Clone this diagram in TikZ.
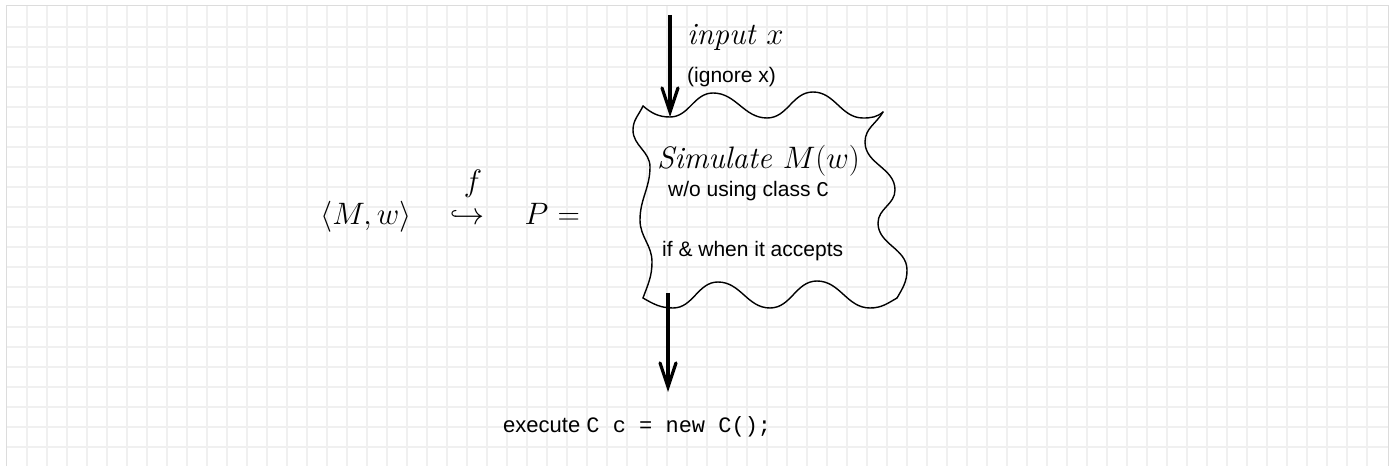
\RequirePackage{fix-cm}
\documentclass[tikz,border=0pt]{standalone}
\usepackage{fontspec}
\setsansfont{Liberation Sans}
\setmonofont{Liberation Mono}
\usepackage{tikz}
\usetikzlibrary{positioning,arrows.meta}
\definecolor{rdGrid}{HTML}{F0F0F0}
\definecolor{rdFrame}{HTML}{DCDCDC}
\definecolor{rdInk}{HTML}{000000}
\tikzset{
  rd-grid/.style={draw=rdGrid, line width=1.6pt},
  rd-frame/.style={draw=rdFrame, line width=1pt},
  rd-math/.style={inner sep=0pt, font=\fontsize{31}{36}\selectfont},
  rd-note/.style={inner sep=0pt, font=\fontsize{21}{25}\selectfont\sffamily},
  rd-code/.style={inner sep=0pt, font=\fontsize{22}{26}\selectfont\sffamily},
  rd-wave/.style={draw=rdInk, line width=1.4pt, line join=round, line cap=round},
  rd-flow/.style={-{Straight Barb[length=24pt,width=16pt,line cap=round]},
    line width=3.2pt, draw=rdInk}
}

\begin{document}
\begin{tikzpicture}[x=1pt, y=1pt]
\useasboundingbox (0,0) rectangle (1392,466);
\foreach \gx in {27,47,...,1367} \draw[rd-grid] (\gx,0) -- (\gx,460);
\foreach \gy in {19,39,...,439} \draw[rd-grid] (6,\gy) -- (1388,\gy);
\draw[rd-frame] (6,0) -- (6,460) -- (1388,460) -- (1388,0);

\node[rd-math, anchor=base] (pair) at (366,241) {$\langle M, w\rangle$};
\node[rd-math, anchor=base] (map) at (467,241) {$\hookrightarrow$};
\node[rd-math, above=13pt of map, xshift=6pt] (fname) {$f$};
\node[rd-math, base right=40pt of map] (prog) {$P$};
\node[rd-math, base right=9pt of prog] (eq) {$=$};

\draw[rd-wave] (643,360) to[out=-40,in=180] (670,349) to[out=0,in=180] (713,373)
  to[out=0,in=180] (767,348) to[out=0,in=180] (813,374)
  to[out=0,in=180] (863,348) to[out=0,in=-140] (883,354);
\draw[rd-wave] (883,354) to[out=-120,in=90] (865,324) to[out=-90,in=90] (895,276)
  to[out=-90,in=90] (878,243) to[out=-90,in=90] (907,196)
  to[out=-90,in=60] (897,168);
\draw[rd-wave] (643,360) to[out=-115,in=90] (633,336) to[out=-90,in=90] (650,299)
  to[out=-90,in=90] (640,246) to[out=-90,in=90] (652,204)
  to[out=-90,in=70] (643,168);
\draw[rd-wave] (643,168) to[out=-30,in=180] (673,158) to[out=0,in=180] (718,184)
  to[out=0,in=180] (770,158) to[out=0,in=180] (817,185)
  to[out=0,in=180] (870,158) to[out=0,in=-150] (897,168);

\node[rd-math, anchor=base west] (input) at (687,421) {\itshape input $x$};
\node[rd-note, anchor=base west] (ignore) at (687,383) {(ignore x)};
\node[rd-math, anchor=base west] (sim) at (657,297) {\itshape Simulate $M(w)$};
\node[rd-note, anchor=base west] (nouse) at (668,269) {w/o using class \texttt{C}};
\node[rd-note, anchor=base west] (accept) at (662,209) {if \& when it accepts};
\node[rd-code, anchor=base west] (exec) at (503,34) {execute \texttt{C c = new C();}};

\coordinate (src) at (670,451);
\coordinate (boxin) at (670,349);
\coordinate (boxout) at (668,173);
\coordinate (dst) at (668,74);
\draw[rd-flow] (src) -- (boxin);
\draw[rd-flow] (boxout) -- (dst);
\end{tikzpicture}
\end{document}
